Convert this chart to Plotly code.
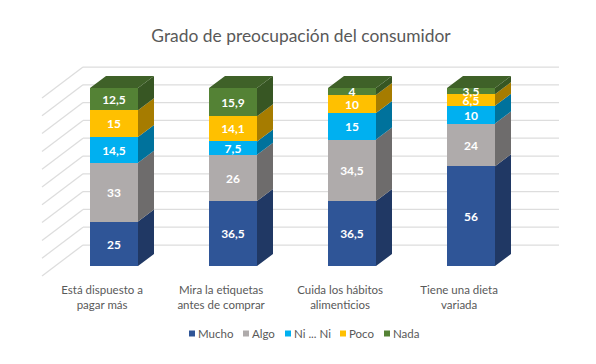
import plotly.graph_objects as go

categories = ["Está dispuesto a<br>pagar más", "Mira la etiquetas<br>antes de comprar",
              "Cuida los hábitos<br>alimenticios", "Tiene una dieta<br>variada"]
mucho = [25, 36.5, 36.5, 56]
algo = [33, 26, 34.5, 24]
ni_ni = [14.5, 7.5, 15, 10]
poco = [15, 14.1, 10, 6.5]
nada = [12.5, 15.9, 4, 3.5]
series_names = ["Mucho", "Algo", "Ni ... Ni", "Poco", "Nada"]
series_values = [mucho, algo, ni_ni, poco, nada]
front_colors = ["#2F5597", "#AFABAB", "#00B0F0", "#FFC000", "#548235"]
side_colors = ["#203864", "#6E6C6C", "#00729C", "#A67C00", "#375623"]
top_color = "#3F6128"
grid_ticks = list(range(0, 101, 10))

OFF = 8        # the page body margin shifts the figure by this much
W, H = 596 - OFF, 364 - OFF
PX_X = 119.0   # px per category
PX_Y = 1.78    # px per value unit
BAR_W = 48 / PX_X
DX, DY = 16 / PX_X, 12 / PX_Y
L, R, T, B = 30 - OFF, 570 - OFF, 20 - OFF, 277 - OFF
ZERO_X, ZERO_Y = 114 - OFF, 266 - OFF

x_pos = list(range(len(categories)))
fig = go.Figure()

# front faces
for name, vals, col in zip(series_names, series_values, front_colors):
    fig.add_trace(go.Bar(
        x=x_pos, y=vals, name=name, width=BAR_W, marker=dict(color=col, line=dict(width=0)),
        text=[str(v).replace(".", ",") for v in vals], textposition="inside",
        insidetextanchor="middle", textangle=0, constraintext="none",
        insidetextfont=dict(family="Lato", size=12, color="white", weight="bold"),
        hoverinfo="skip", showlegend=False))

# side faces and top, derived from the stacked values
base = [0.0] * len(x_pos)
for vals, col in zip(series_values, side_colors):
    xs, ys = [], []
    for i, v in zip(x_pos, vals):
        xr, b, t = i + BAR_W / 2, base[i], base[i] + v
        xs += [xr, xr + DX, xr + DX, xr, xr, None]
        ys += [b, b + DY, t + DY, t, b, None]
        base[i] = t
    fig.add_trace(go.Scatter(x=xs, y=ys, mode="none", fill="toself", fillcolor=col,
                             hoverinfo="skip", showlegend=False))
xs, ys = [], []
for i in x_pos:
    xl, xr, t = i - BAR_W / 2, i + BAR_W / 2, base[i]
    xs += [xl, xr, xr + DX, xl + DX, xl, None]
    ys += [t, t, t + DY, t + DY, t, None]
fig.add_trace(go.Scatter(x=xs, y=ys, mode="none", fill="toself", fillcolor=top_color,
                         hoverinfo="skip", showlegend=False))

# helpers: page pixels to axis / paper coordinates
to_x = lambda px: (px - OFF - ZERO_X) / PX_X
to_y = lambda py: (ZERO_Y - (py - OFF)) / PX_Y
paper_x = lambda px: (px - OFF - L) / (R - L)
paper_y = lambda py: (B - (py - OFF)) / (B - T)

# wall gridlines
shapes = []
grid_style = dict(color="#DDDDDD", width=1.25)
for v in grid_ticks:
    y_front, y_back = to_y(276) + v, to_y(245) + v
    shapes.append(dict(type="line", layer="below", x0=to_x(42), x1=to_x(83), y0=y_front, y1=y_back,
                       xref="x", yref="y", line=grid_style))
    shapes.append(dict(type="line", layer="below", x0=to_x(83), x1=to_x(559), y0=y_back, y1=y_back,
                       xref="x", yref="y", line=grid_style))

# legend row
annotations = []
legend_left = [189, 243, 285, 340, 384]
for name, col, lx in zip(series_names, front_colors, legend_left):
    shapes.append(dict(type="rect", xref="paper", yref="paper", layer="above",
                       x0=paper_x(lx), x1=paper_x(lx + 6),
                       y0=paper_y(336.5), y1=paper_y(330.5),
                       fillcolor=col, line=dict(width=0)))
    annotations.append(dict(text=name, xref="paper", yref="paper", showarrow=False,
                            x=paper_x(lx + 8), y=paper_y(333.5),
                            xanchor="left", yanchor="middle", xshift=-1,
                            font=dict(family="Lato", size=11.5, color="#595959")))

fig.update_layout(
    width=W, height=H, barmode="stack", bargap=0,
    margin=dict(l=L, r=W - R, t=T, b=H - B), paper_bgcolor="white", plot_bgcolor="white",
    showlegend=False, shapes=shapes, annotations=annotations,
    title=dict(text="Grado de preocupación del consumidor", x=(301 - OFF) / W, xanchor="center",
               y=1 - (36 - OFF) / H, yanchor="middle",
               font=dict(family="Lato", size=17.4, color="#595959")),
    xaxis=dict(range=[to_x(30), to_x(570)], tickmode="array", tickvals=[i - 0.1 for i in x_pos],
               ticktext=categories, showgrid=False, zeroline=False, showline=False,
               ticks="outside", ticklen=2, tickcolor="rgba(0,0,0,0)",
               tickfont=dict(family="Lato", size=11.5, color="#595959")),
    yaxis=dict(range=[to_y(277), to_y(20)], showgrid=False, zeroline=False, showline=False,
               showticklabels=False, ticks=""),
)
fig.write_html("out.html")
